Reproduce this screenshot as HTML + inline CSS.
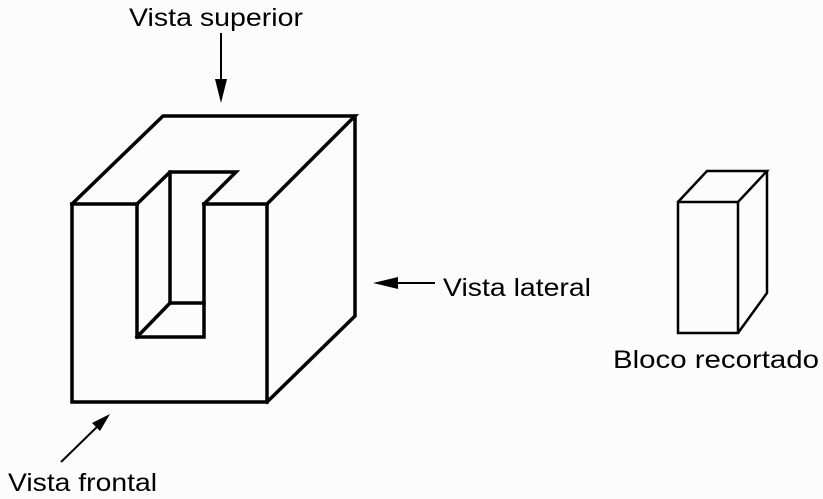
<!DOCTYPE html>
<html><head><meta charset="utf-8"><style>
html,body{margin:0;padding:0;background:#fcfcfc;}
svg{display:block;}
text{font-family:"Liberation Sans",sans-serif;fill:#000;}
</style></head><body>
<svg width="823" height="499" viewBox="0 0 823 499" xmlns="http://www.w3.org/2000/svg">
<g fill="none" stroke="#000" stroke-width="3.5" stroke-linejoin="miter" stroke-linecap="square">
<polyline points="72,204 163,116 355,116 267,204"/>
<polyline points="355,116 355,316 267,402"/>
<polyline points="72,204 72,402 267,402 267,204 204,204"/>
<line x1="72" y1="204" x2="137" y2="204"/>
<polyline points="137,204 170,172 236,172 204,204"/>
<polyline points="170,172 170,303 204,303"/>
<line x1="137" y1="337" x2="170" y2="303"/>
<polyline points="137,204 137,337 204,337 204,204"/>
</g>
<g fill="none" stroke="#000" stroke-width="2.5">
<rect x="678" y="202" width="60" height="131"/>
<polyline points="678,202 707,171 767,171 738,202"/>
<polyline points="767,171 767,293 738,333"/>
</g>
<g stroke="#000" stroke-width="2">
<line x1="221" y1="33" x2="221" y2="85"/>
<line x1="435" y1="283" x2="392" y2="283"/>
<line x1="61" y1="462" x2="100" y2="424"/>
</g>
<g fill="#000">
<polygon points="215,79 227,79 221,103"/>
<polygon points="373,283 398,277 398,289"/>
<polygon points="110,414 92,423 100,431"/>
</g>
<text x="129" y="26" font-size="25" textLength="174" lengthAdjust="spacingAndGlyphs">Vista superior</text>
<text x="443" y="296" font-size="25" textLength="148" lengthAdjust="spacingAndGlyphs">Vista lateral</text>
<text x="8" y="491" font-size="25" textLength="149" lengthAdjust="spacingAndGlyphs">Vista frontal</text>
<text x="613" y="368" font-size="25" textLength="206" lengthAdjust="spacingAndGlyphs">Bloco recortado</text>
</svg>
</body></html>
